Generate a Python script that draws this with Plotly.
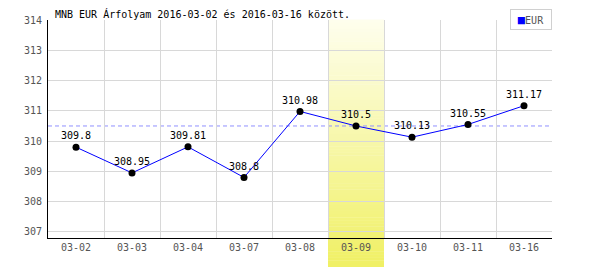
import plotly.graph_objects as go

categories = ["03-02", "03-03", "03-04", "03-07", "03-08", "03-09", "03-10", "03-11", "03-16"]
values = [309.8, 308.95, 309.81, 308.8, 310.98, 310.5, 310.13, 310.55, 311.17]
labels = ["309.8", "308.95", "309.81", "308.8", "310.98", "310.5", "310.13", "310.55", "311.17"]
y_ticks = [307, 308, 309, 310, 311, 312, 313, 314]
highlight = "03-09"
ref_value = 310.5
title = "MNB EUR Árfolyam 2016-03-02 és 2016-03-16 között."
series_name = "EUR"

FONT = "DejaVu Sans Mono"
W, H = 600, 270
L, R, T, B = 48, 48, 20, 32
ph = H - T - B

fig = go.Figure()
fig.add_trace(go.Scatter(
    x=categories, y=values, mode="lines+markers+text",
    text=labels, textposition="top center",
    textfont=dict(family=FONT, size=10, color="#000"),
    line=dict(color="#0000ff", width=1),
    marker=dict(color="#000", size=7),
    cliponaxis=False, showlegend=False, hoverinfo="skip",
))

shapes = []
# gradient highlight band
hi = categories.index(highlight)
y_top = 1.0
y_bot = -(267 - (H - B)) / ph
N = 80
c0 = (254, 254, 238)
c1 = (240, 240, 100)
for i in range(N):
    f = (i + 0.5) / N
    col = tuple(round(c0[k] + (c1[k] - c0[k]) * f) for k in range(3))
    ya = y_top - (y_top - y_bot) * i / N
    yb = y_top - (y_top - y_bot) * (i + 1) / N
    shapes.append(dict(type="rect", xref="x", yref="paper",
                       x0=hi - 0.5, x1=hi + 0.5, y0=yb, y1=ya + 0.002,
                       fillcolor="rgb(%d,%d,%d)" % col, line=dict(width=0),
                       layer="between"))
# reference dashed line
shapes.append(dict(type="line", xref="paper", yref="y", x0=0, x1=1,
                   y0=ref_value, y1=ref_value,
                   line=dict(color="#9090ff", width=1, dash="4px,3px"),
                   layer="between"))

annotations = [
    dict(text=title, xref="paper", yref="paper", x=(53 - L) / (W - L - R),
         y=(H - B - 14) / ph, xanchor="left", yanchor="middle", showarrow=False,
         font=dict(family=FONT, size=10, color="#000")),
    dict(text="<span style='color:#0000ff;font-size:12px'>■</span>" + series_name,
         xref="paper", yref="paper", x=1, y=(H - B - 9) / ph,
         xanchor="right", yanchor="top", showarrow=False,
         width=38, height=17, align="center",
         font=dict(family=FONT, size=10, color="#555"),
         bgcolor="#fff", bordercolor="#d0d0d0", borderwidth=1, borderpad=1),
]

fig.update_layout(
    width=W, height=H, margin=dict(l=L, r=R, t=T, b=B),
    paper_bgcolor="#fff", plot_bgcolor="#fff",
    shapes=shapes, annotations=annotations, showlegend=False,
    font=dict(family=FONT, size=10, color="#555"),
)
fig.update_xaxes(
    type="category", categoryorder="array", categoryarray=categories,
    range=[-0.5, len(categories) - 0.5],
    tickson="boundaries", showgrid=True, gridcolor="#d8d8d8", gridwidth=1,
    showline=True, linecolor="#000", linewidth=1,
    ticks="outside", ticklen=4, tickcolor="rgba(0,0,0,0)",
    tickfont=dict(family=FONT, size=10, color="#555"),
    zeroline=False, fixedrange=True,
)
fig.update_yaxes(
    range=[306.8, 314], tickvals=y_ticks,
    showgrid=True, gridcolor="#d8d8d8", gridwidth=1,
    showline=True, linecolor="#000", linewidth=1,
    ticks="outside", ticklen=3, tickcolor="rgba(0,0,0,0)",
    tickfont=dict(family=FONT, size=10, color="#555"),
    zeroline=False, fixedrange=True,
)

fig.write_html("out.html", config={"displayModeBar": False})
